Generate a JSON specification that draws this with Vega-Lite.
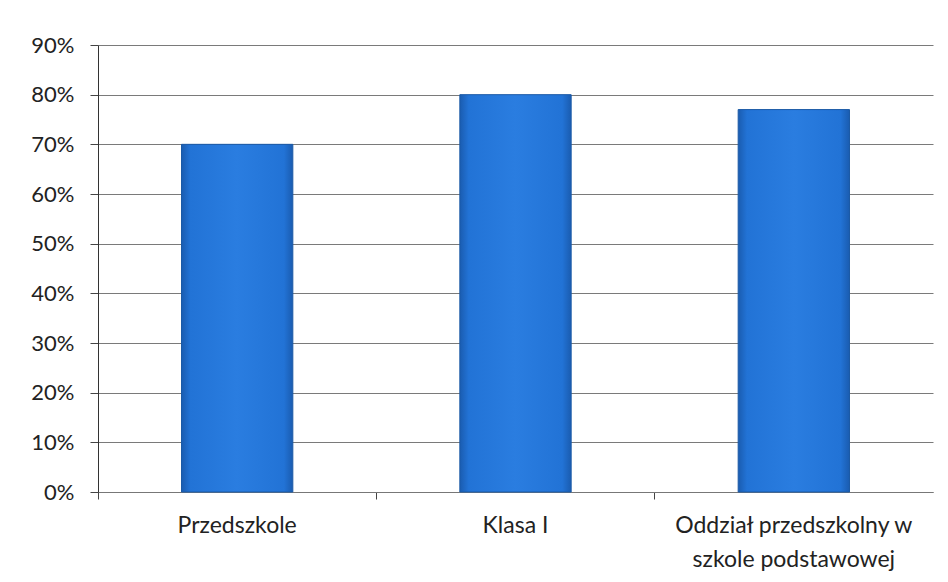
{
  "$schema": "https://vega.github.io/schema/vega-lite/v6.json",
  "width": 835,
  "height": 447,
  "autosize": {"type": "none"},
  "padding": {"left": 98, "top": 45, "right": 15, "bottom": 90},
  "background": "white",
  "config": {
    "view": {"stroke": null},
    "font": "Lato"
  },
  "data": {
    "values": [
      {"kategoria": "Przedszkole", "udzial": 0.70},
      {"kategoria": "Klasa I", "udzial": 0.80},
      {"kategoria": "Oddział przedszkolny w szkole podstawowej", "udzial": 0.77}
    ]
  },
  "mark": {
    "type": "bar",
    "color": {
      "gradient": "linear",
      "x1": 0, "y1": 0, "x2": 1, "y2": 0,
      "stops": [
        {"offset": 0, "color": "#1a5cb0"},
        {"offset": 0.08, "color": "#2273d6"},
        {"offset": 0.5, "color": "#2a7de0"},
        {"offset": 0.92, "color": "#2273d6"},
        {"offset": 1, "color": "#1a5cb0"}
      ]
    },
    "stroke": "#1b5aa6",
    "strokeWidth": 1
  },
  "encoding": {
    "x": {
      "field": "kategoria",
      "type": "nominal",
      "sort": null,
      "scale": {"paddingInner": 0.6, "paddingOuter": 0.3},
      "axis": {
        "title": null,
        "labelAngle": 0,
        "labelFontSize": 23,
        "labelColor": "#222",
        "labelPadding": 15,
        "labelLineHeight": 34,
        "labelLimit": 0,
        "labelExpr": "datum.value === 'Oddział przedszkolny w szkole podstawowej' ? ['Oddział przedszkolny w', 'szkole podstawowej'] : datum.value",
        "tickSize": 7,
        "tickColor": "#444",
        "bandPosition": -0.75,
        "domainColor": "#777",
        "grid": false
      }
    },
    "y": {
      "field": "udzial",
      "type": "quantitative",
      "scale": {"domain": [0, 0.9], "nice": false},
      "axis": {
        "title": null,
        "format": ".0%",
        "values": [0, 0.1, 0.2, 0.3, 0.4, 0.5, 0.6, 0.7, 0.8, 0.9],
        "labelFontSize": 22,
        "labelColor": "#222",
        "labelPadding": 16,
        "tickSize": 8,
        "tickColor": "#444",
        "domainColor": "#333",
        "gridColor": "#7a7a7a",
        "gridWidth": 1
      }
    }
  }
}
